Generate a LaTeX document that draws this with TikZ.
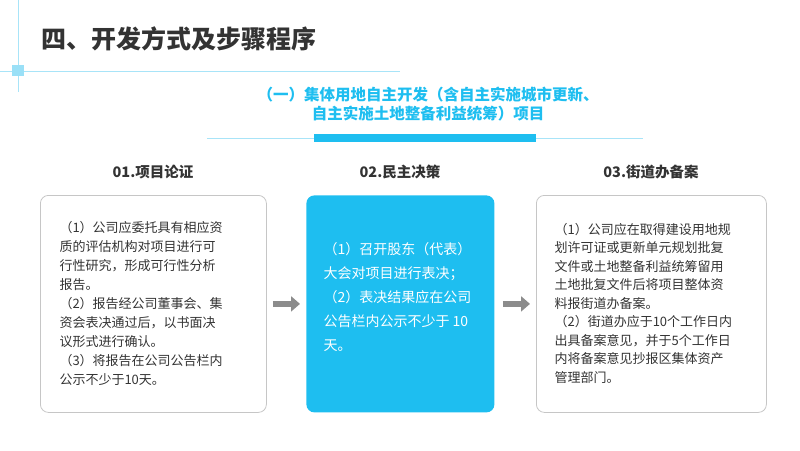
\documentclass[tikz,border=0pt]{standalone}
\usepackage{fontspec}
\setmainfont{Noto Sans CJK SC}
\usepackage{xcolor}
\definecolor{skyblue}{HTML}{1EBEF0}
\definecolor{paleblue}{HTML}{A8E4F8}
\definecolor{darktext}{HTML}{333333}
\definecolor{arrowgray}{HTML}{8C8C8C}
\tikzset{
  stepcard/.style={draw=gray!45, line width=0.8pt, rounded corners=8pt, minimum width=#1, minimum height=217pt, anchor=north west},
  stephead/.style={font=\bfseries\fontsize{14.5}{16}\selectfont, text=darktext},
  steptext/.style={align=left, text=darktext, font=\fontsize{13}{19}\selectfont, anchor=west},
  stepflow/.style={arrowgray, line width=6pt, -{Triangle[length=9pt,width=15pt]}}
}
\usetikzlibrary{arrows.meta}
\begin{document}
\begin{tikzpicture}[x=1pt,y=-1pt]
\useasboundingbox (0,0) rectangle (800,450);

% decoration
\draw[paleblue, line width=0.8pt] (18,0) -- (18,92);
\draw[paleblue, line width=0.8pt] (0,71) -- (400,71);
\fill[paleblue!90!skyblue] (12,65) rectangle (24,76);

\node[anchor=west, font=\bfseries\fontsize{25}{27}\selectfont, text=darktext] (title) at (38,39) {四、开发方式及步骤程序};

\node[align=center, text=skyblue, font=\bfseries\fontsize{15.5}{19}\selectfont] (sub) at (428,104) {（一）集体用地自主开发（含自主实施城市更新、\\自主实施土地整备利益统筹）项目};
\draw[paleblue, line width=0.8pt] (207,138) -- (643,138);
\fill[skyblue] (314,134) rectangle (536,142);

% headings
\node[stephead] (h1) at (153,172) {01.项目论证};
\node[stephead] (h2) at (400,172) {02.民主决策};
\node[stephead] (h3) at (651,172) {03.街道办备案};

% cards
\node[stepcard=226pt] (c1) at (40,195) {};
\node[stepcard=188pt, draw=none, fill=skyblue] (c2) at (306,195) {};
\node[stepcard=230pt] (c3) at (536,195) {};

\node[steptext] (t1) at (56,303) {（1）公司应委托具有相应资\\质的评估机构对项目进行可\\行性研究，形成可行性分析\\报告。\\（2）报告经公司董事会、集\\资会表决通过后，以书面决\\议形式进行确认。\\（3）将报告在公司公告栏内\\公示不少于10天。};
\node[steptext, text=white, font=\fontsize{14}{24}\selectfont] (t2) at (320,297) {（1）召开股东（代表）\\大会对项目进行表决；\\（2）表决结果应在公司\\公告栏内公示不少于 10\\天。};
\node[steptext, font=\fontsize{13}{18.5}\selectfont] (t3) at (551,303) {（1）公司应在取得建设用地规\\划许可证或更新单元规划批复\\文件或土地整备利益统筹留用\\土地批复文件后将项目整体资\\料报街道办备案。\\（2）街道办应于10个工作日内\\出具备案意见，并于5个工作日\\内将备案意见抄报区集体资产\\管理部门。};

% flow arrows
\draw[stepflow] ([xshift=6pt]c1.east) -- ([xshift=-6pt]c2.west);
\draw[stepflow] ([xshift=8pt]c2.east) -- ([xshift=-6pt]c3.west);
\end{tikzpicture}
\end{document}
